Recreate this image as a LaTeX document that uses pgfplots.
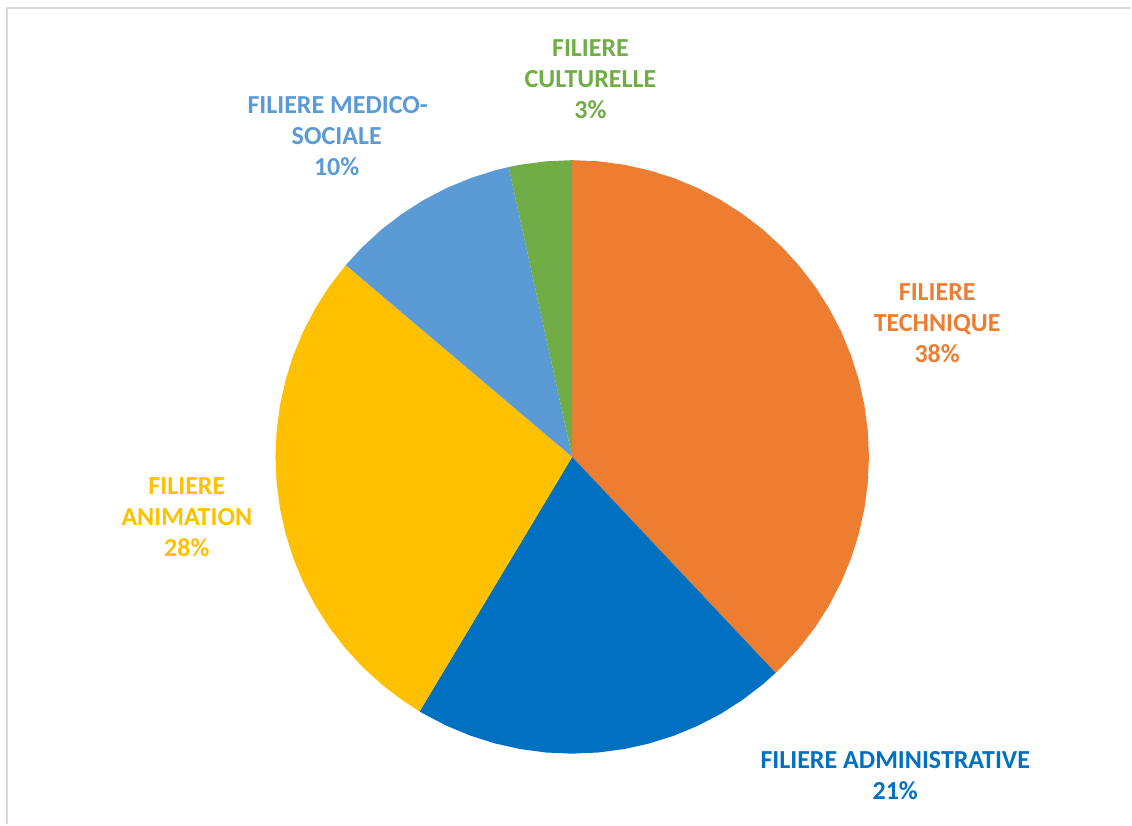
\documentclass[border=0pt]{standalone}
\usepackage{fontspec}
\setmainfont{Carlito}
\usepackage{pgfplots}
\pgfplotsset{compat=1.18}
\definecolor{ctech}{HTML}{ED7D31}
\definecolor{cadmin}{HTML}{0070C0}
\definecolor{canim}{HTML}{FFC000}
\definecolor{cmedic}{HTML}{5B9BD5}
\definecolor{ccult}{HTML}{70AD47}
\definecolor{frame}{HTML}{D9D9D9}

% one line of a slice label, placed on its baseline
\newcommand{\lbl}[4]{\node[anchor=base,inner sep=0pt,text=#3,font=\fontsize{13}{16}\selectfont\bfseries] at (axis cs:#1,#2) {#4};}

\begin{document}
\begin{tikzpicture}
\begin{axis}[
    scale only axis,
    width=566pt, height=412.5pt,
    xmin=-572.7, xmax=559.3, ymin=-367.7, ymax=457.3,
    hide axis, clip=false,
]
\path (axis cs:-572.7,-367.7) rectangle (axis cs:559.3,457.3);
\draw[frame, line width=1pt] (axis cs:-565.2,-367.7) -- (axis cs:-565.2,449.3) -- (axis cs:559.3,449.3);

% slices: (angle, radius), shares 37.98 / 20.62 / 27.59 / 10.38 / 3.43 %
\addplot[fill=ctech, draw=none, data cs=polar] coordinates {
 (0,0) (90,297) (85,297) (80,297) (75,297) (70,297) (65,297) (60,297) (55,297) (50,297)
 (45,297) (40,297) (35,297) (30,297) (25,297) (20,297) (15,297) (10,297) (5,297) (0,297)
 (-5,297) (-10,297) (-15,297) (-20,297) (-25,297) (-30,297) (-35,297) (-40,297) (-45,297) (-46.71,297)
} -- cycle;
\addplot[fill=cadmin, draw=none, data cs=polar] coordinates {
 (0,0) (-46.71,297) (-50,297) (-55,297) (-60,297) (-65,297) (-70,297) (-75,297) (-80,297)
 (-85,297) (-90,297) (-95,297) (-100,297) (-105,297) (-110,297) (-115,297) (-120,297) (-120.95,297)
} -- cycle;
\addplot[fill=canim, draw=none, data cs=polar] coordinates {
 (0,0) (239.05,297) (235,297) (230,297) (225,297) (220,297) (215,297) (210,297) (205,297)
 (200,297) (195,297) (190,297) (185,297) (180,297) (175,297) (170,297) (165,297) (160,297)
 (155,297) (150,297) (145,297) (140,297) (139.72,297)
} -- cycle;
\addplot[fill=cmedic, draw=none, data cs=polar] coordinates {
 (0,0) (139.72,297) (135,297) (130,297) (125,297) (120,297) (115,297) (110,297) (105,297) (102.36,297)
} -- cycle;
\addplot[fill=ccult, draw=none, data cs=polar] coordinates {
 (0,0) (102.36,297) (100,297) (95,297) (90,297)
} -- cycle;

% labels
\lbl{18.3}{400.3}{ccult}{FILIERE}
\lbl{18.3}{369.3}{ccult}{CULTURELLE}
\lbl{18.3}{338.3}{ccult}{3\%}
\lbl{-234.7}{343.8}{cmedic}{FILIERE MEDICO-}
\lbl{-235.7}{312.8}{cmedic}{SOCIALE}
\lbl{-235.7}{281.8}{cmedic}{10\%}
\lbl{365.3}{156.8}{ctech}{FILIERE}
\lbl{365.3}{125.8}{ctech}{TECHNIQUE}
\lbl{365.3}{94.8}{ctech}{38\%}
\lbl{-385.7}{-37.2}{canim}{FILIERE}
\lbl{-385.7}{-68.2}{canim}{ANIMATION}
\lbl{-385.7}{-99.2}{canim}{28\%}
\lbl{323.3}{-312.2}{cadmin}{FILIERE ADMINISTRATIVE}
\lbl{323.3}{-343.2}{cadmin}{21\%}
\end{axis}
\end{tikzpicture}
\end{document}
